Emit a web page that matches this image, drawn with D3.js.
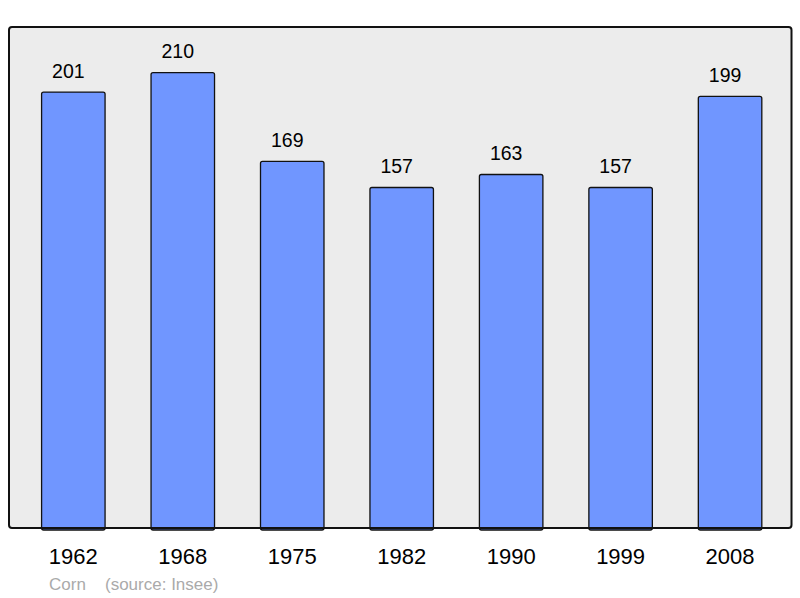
<!DOCTYPE html>
<html>
<head>
<meta charset="utf-8">
<script src="https://cdn.jsdelivr.net/npm/d3@7"></script>
<style>
  body { margin: 0; background: #fff; }
  text { font-family: "Liberation Sans", Arial, sans-serif; }
</style>
</head>
<body>
<div id="chart"></div>
<script>
// data
var years = ["1962", "1968", "1975", "1982", "1990", "1999", "2008"];
var population = [201, 210, 169, 157, 163, 157, 199];
var commune = "Corn";
var source = "(source: Insee)";

var width = 800, height = 598;
var frame = {left: 9, top: 27, right: 791.5, bottom: 528};

var svg = d3.select("#chart")
  .append("svg")
    .attr("width", width)
    .attr("height", height);

var x = d3.scaleBand()
  .domain(years)
  .range([18.6, 784.8])
  .paddingInner(0.42)
  .paddingOuter(0.21);

var y = d3.scaleLinear()
  .domain([0, d3.max(population) * 1.1])
  .range([frame.bottom, frame.top]);

// background frame
svg.append("rect")
  .attr("x", frame.left)
  .attr("y", frame.top)
  .attr("width", frame.right - frame.left)
  .attr("height", frame.bottom - frame.top)
  .attr("rx", 3)
  .attr("fill", "#ececec")
  .attr("stroke", "none");

var data = years.map(function(d, i){ return {year: d, value: population[i]}; });

svg.append("g")
  .selectAll("rect")
  .data(data)
  .enter()
  .append("rect")
    .attr("x", function(d){ return x(d.year); })
    .attr("y", function(d){ return y(d.value); })
    .attr("width", x.bandwidth())
    .attr("height", function(d){ return y(0) - y(d.value) + 2; })
    .attr("rx", 2)
    .attr("fill", "#7096ff")
    .attr("stroke", "#111")
    .attr("stroke-width", 1.3);

// frame border on top so bar bottoms sit inside it
svg.append("rect")
  .attr("x", frame.left)
  .attr("y", frame.top)
  .attr("width", frame.right - frame.left)
  .attr("height", frame.bottom - frame.top)
  .attr("rx", 3)
  .attr("fill", "none")
  .attr("stroke", "#111")
  .attr("stroke-width", 2);

// value labels
svg.append("g")
  .selectAll("text")
  .data(data)
  .enter()
  .append("text")
    .attr("x", function(d){ return x(d.year) + x.bandwidth() / 2 - 5; })
    .attr("y", function(d){ return y(d.value) - 14.5; })
    .attr("text-anchor", "middle")
    .attr("font-size", "19.5px")
    .attr("fill", "#000")
    .text(function(d){ return d.value; });

// year labels
svg.append("g")
  .selectAll("text")
  .data(years)
  .enter()
  .append("text")
    .attr("x", function(d){ return x(d) + x.bandwidth() / 2; })
    .attr("y", 564.3)
    .attr("text-anchor", "middle")
    .attr("font-size", "22px")
    .attr("fill", "#000")
    .text(function(d){ return d; });

svg.append("text")
  .attr("x", 49)
  .attr("y", 590)
  .attr("font-size", "17px")
  .attr("fill", "#aaa")
  .text(commune);

svg.append("text")
  .attr("x", 105)
  .attr("y", 590)
  .attr("font-size", "17px")
  .attr("fill", "#aaa")
  .text(source);
</script>
</body>
</html>
